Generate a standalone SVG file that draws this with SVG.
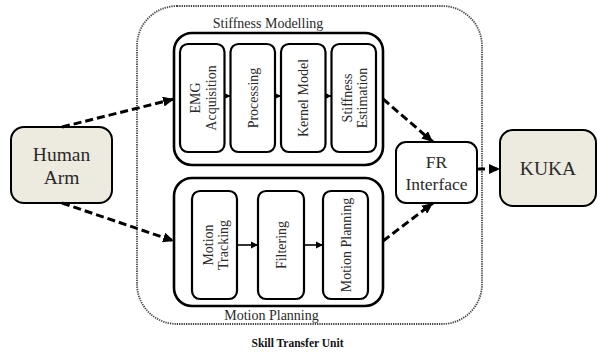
<svg xmlns="http://www.w3.org/2000/svg" width="597" height="355" viewBox="0 0 597 355" font-family="'Liberation Serif', 'DejaVu Serif', 'Times New Roman', serif">
  <style>
    text { font-family: 'Liberation Serif', 'DejaVu Serif', 'Times New Roman', serif; fill: #2a2a2a; }
    .lbl { font-size: 14px; text-anchor: middle; }
    .big { font-size: 19.5px; text-anchor: middle; }
    .mid { font-size: 17.5px; text-anchor: middle; }
    .title { font-size: 11.5px; font-weight: bold; text-anchor: middle; fill: #111; }
    .group { fill: #fff; stroke: #000; stroke-width: 2.6; }
    .step { fill: #fff; stroke: #000; stroke-width: 2.2; }
    .ext { fill: #edeae0; stroke: #000; stroke-width: 2; }
    .iface { fill: #fff; stroke: #000; stroke-width: 2; }
    .unit { fill: none; stroke: #444; stroke-width: 1.8; stroke-dasharray: 1.3 1; }
    .dash { fill: none; stroke: #000; stroke-width: 3; stroke-dasharray: 8 4; marker-end: url(#headBig); }
    .solid { fill: none; stroke: #000; stroke-width: 1.6; marker-end: url(#headSmall); }
  </style>
  <defs>
    <marker id="headBig" markerUnits="userSpaceOnUse" markerWidth="12" markerHeight="10" refX="11" refY="5" orient="auto">
      <path d="M0,0 L11,5 L0,10 Z" fill="#000"/>
    </marker>
    <marker id="headSmall" markerUnits="userSpaceOnUse" markerWidth="8" markerHeight="8" refX="7" refY="4" orient="auto">
      <path d="M0,0.5 L7,4 L0,7.5 Z" fill="#000"/>
    </marker>
  </defs>

  <!-- Skill transfer unit boundary -->
  <g id="skill-transfer-unit">
    <rect class="unit" x="137" y="6" width="345" height="318" rx="40"/>
    <text class="title" x="297.5" y="347">Skill Transfer Unit</text>
  </g>

  <!-- Stiffness modelling pipeline -->
  <g id="stiffness-modelling">
    <rect class="group" x="174" y="33" width="209" height="132" rx="18"/>
    <text class="lbl" x="268" y="28">Stiffness Modelling</text>
  </g>
  <g id="emg-acquisition">
    <rect class="step" x="180" y="44" width="44.5" height="108" rx="8"/>
    <text class="lbl" transform="translate(202.2,98) rotate(-90)"><tspan x="0" y="-2">EMG</tspan><tspan x="0" y="13.5">Acquisition</tspan></text>
  </g>
  <g id="processing">
    <rect class="step" x="230.5" y="44" width="44.5" height="108" rx="8"/>
    <text class="lbl" transform="translate(252.7,98) rotate(-90)" y="5">Processing</text>
  </g>
  <g id="kernel-model">
    <rect class="step" x="281" y="44" width="44.5" height="108" rx="8"/>
    <text class="lbl" transform="translate(303.2,98) rotate(-90)" y="5">Kernel Model</text>
  </g>
  <g id="stiffness-estimation">
    <rect class="step" x="331.5" y="44" width="44.5" height="108" rx="8"/>
    <text class="lbl" transform="translate(353.7,98) rotate(-90)"><tspan x="0" y="-2">Stiffness</tspan><tspan x="0" y="13.5">Estimation</tspan></text>
  </g>

  <!-- Motion planning pipeline -->
  <g id="motion-planning">
    <rect class="group" x="174" y="178" width="209" height="128" rx="18"/>
    <text class="lbl" x="271.5" y="320">Motion Planning</text>
  </g>
  <g id="motion-tracking">
    <rect class="step" x="192" y="191" width="45" height="108" rx="8"/>
    <text class="lbl" transform="translate(214.5,245) rotate(-90)"><tspan x="0" y="-2">Motion</tspan><tspan x="0" y="13.5">Tracking</tspan></text>
  </g>
  <g id="filtering">
    <rect class="step" x="258" y="191" width="46" height="108" rx="8"/>
    <text class="lbl" transform="translate(281,245) rotate(-90)" y="5">Filtering</text>
  </g>
  <g id="motion-planning-step">
    <rect class="step" x="323" y="191" width="45" height="108" rx="8"/>
    <text class="lbl" transform="translate(345.5,245) rotate(-90)" y="5">Motion Planning</text>
  </g>

  <!-- External endpoints -->
  <g id="human-arm">
    <rect class="ext" x="11" y="127" width="101" height="76" rx="13"/>
    <text class="big" x="61.5" y="161">Human</text>
    <text class="big" x="61.5" y="184">Arm</text>
  </g>
  <g id="fr-interface">
    <rect class="iface" x="396" y="142" width="81" height="61" rx="10"/>
    <text class="mid" x="436.5" y="168">FR</text>
    <text class="mid" x="436.5" y="190">Interface</text>
  </g>
  <g id="kuka">
    <rect class="ext" x="500" y="130" width="96" height="76" rx="13"/>
    <text class="big" x="548" y="175">KUKA</text>
  </g>

  <!-- Connectors -->
  <g id="connectors">
    <path class="dash" d="M62,127 L174,99"/>
    <path class="dash" d="M62,203 L174,241"/>
    <path class="dash" d="M383,99 L433,142"/>
    <path class="dash" d="M383,241 L433,203"/>
    <path class="dash" d="M477,169 L500,169"/>
    <path class="solid" d="M224.5,96 L230.5,96"/>
    <path class="solid" d="M275,96 L281,96"/>
    <path class="solid" d="M325.5,96 L331.5,96"/>
    <path class="solid" d="M237,245 L258,245"/>
    <path class="solid" d="M304,245 L323,245"/>
  </g>
</svg>
